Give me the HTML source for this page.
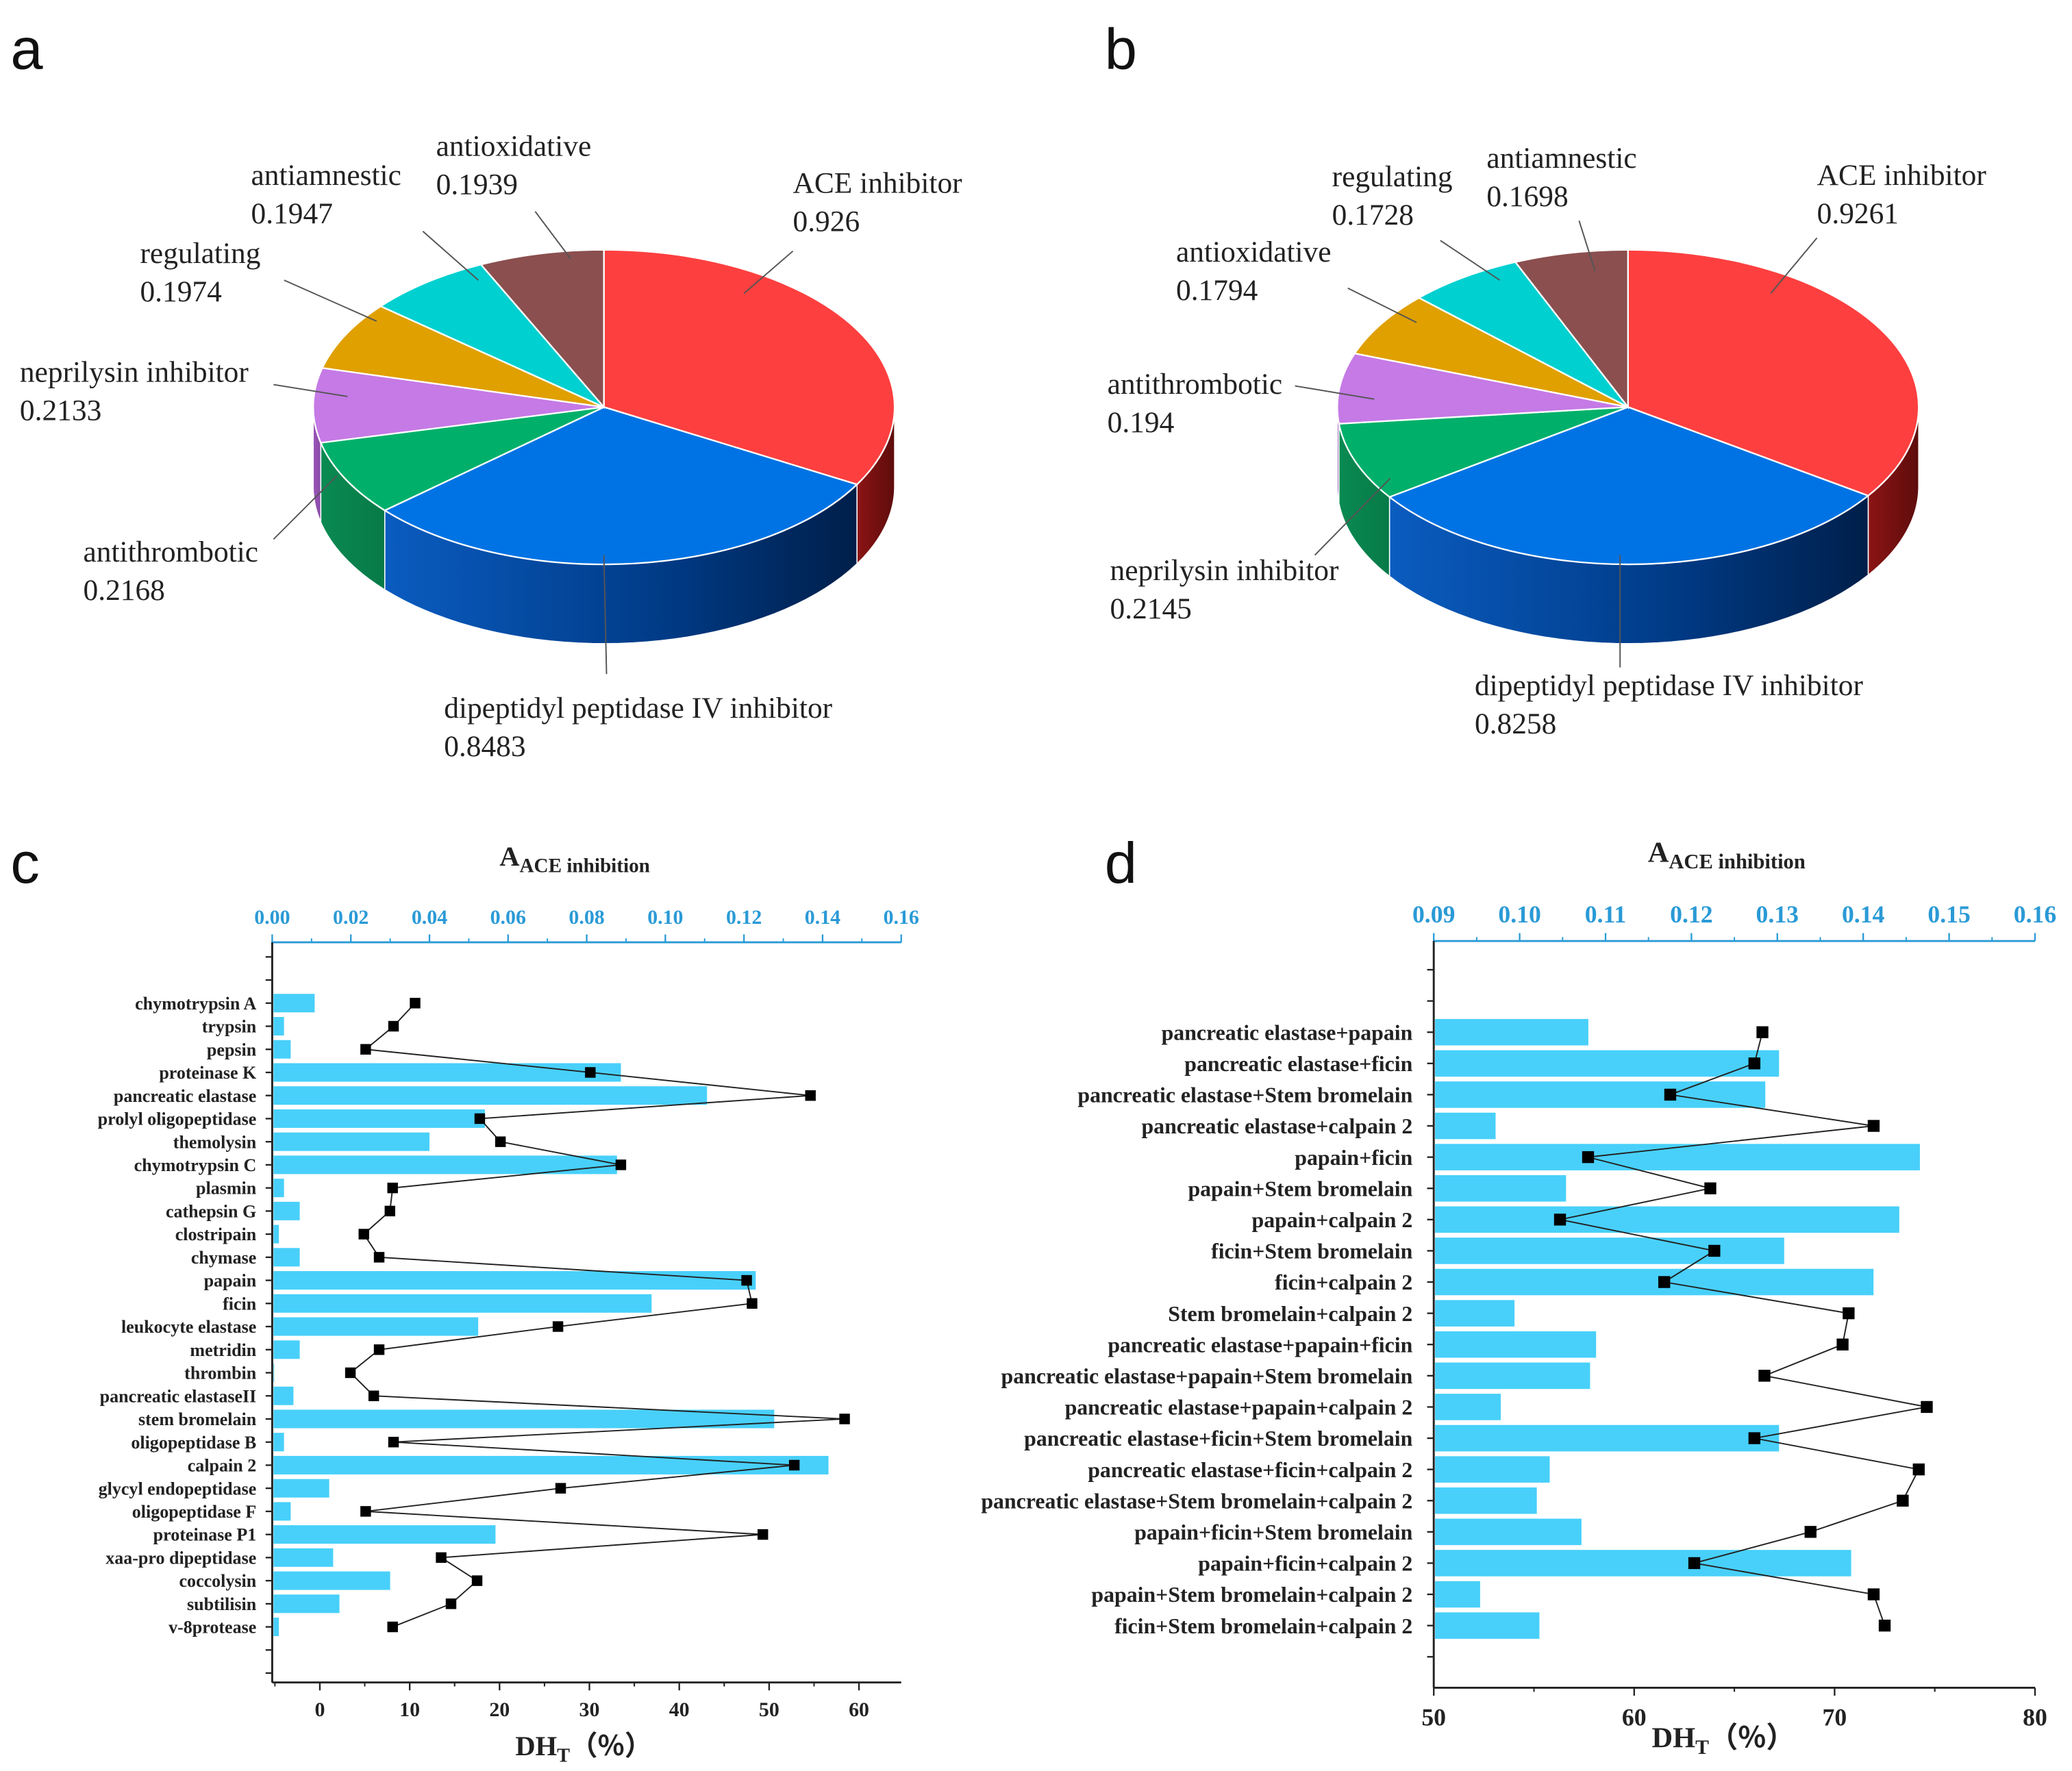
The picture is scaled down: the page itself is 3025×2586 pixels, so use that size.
<!DOCTYPE html>
<html><head><meta charset="utf-8"><style>
html,body{margin:0;padding:0;background:#fff}
svg{display:block}
.lbl{font-family:"Liberation Serif",serif;font-size:22.5px;fill:#222}
.cat{font-family:"Liberation Serif",serif;font-weight:bold;fill:#222}
.tk{font-family:"Liberation Serif",serif;font-weight:bold}
.let{font-family:"Liberation Sans","DejaVu Sans",sans-serif;font-size:44px;fill:#111}
</style></head><body>
<svg id="root" width="3025" height="2586" viewBox="0 0 1568 1340" preserveAspectRatio="none" xmlns="http://www.w3.org/2000/svg">
<defs>
<linearGradient id="gBlue" x1="0" x2="1" y1="0" y2="0"><stop offset="0" stop-color="#0a5cc0"/><stop offset="0.6" stop-color="#003a85"/><stop offset="1" stop-color="#001f4a"/></linearGradient>
<linearGradient id="gRed" x1="0" x2="1"><stop offset="0" stop-color="#8c1414"/><stop offset="1" stop-color="#5e0c0c"/></linearGradient>
<linearGradient id="gGreen" x1="0" x2="1"><stop offset="0" stop-color="#0a8a52"/><stop offset="1" stop-color="#077a48"/></linearGradient>
<linearGradient id="gPurple" x1="0" x2="1"><stop offset="0" stop-color="#9a55b8"/><stop offset="1" stop-color="#8a4aa8"/></linearGradient>
</defs>
<text class="let" x="8" y="52">a</text>
<text class="let" x="836" y="52">b</text>
<text class="let" x="8" y="668">c</text>
<text class="let" x="836" y="668">d</text>
<g id="pieA"></g>
<g id="pieB"></g>
<g id="chartC"></g>
<g id="chartD"></g>
</svg>
<script>
// ---------- Pie data ----------
const pieALabels = ["ACE inhibitor","dipeptidyl peptidase IV inhibitor","antithrombotic","neprilysin inhibitor","regulating","antiamnestic","antioxidative"];
const pieAValues = [0.926,0.8483,0.2168,0.2133,0.1974,0.1947,0.1939];
const pieBLabels = ["ACE inhibitor","dipeptidyl peptidase IV inhibitor","neprilysin inhibitor","antithrombotic","antioxidative","regulating","antiamnestic"];
const pieBValues = [0.9261,0.8258,0.2145,0.194,0.1794,0.1728,0.1698];
// ---------- Chart c data ----------
const cCats = ["chymotrypsin A","trypsin","pepsin","proteinase K","pancreatic elastase","prolyl oligopeptidase","themolysin","chymotrypsin C","plasmin","cathepsin G","clostripain","chymase","papain","ficin","leukocyte elastase","metridin","thrombin","pancreatic elastaseII","stem bromelain","oligopeptidase B","calpain 2","glycyl endopeptidase","oligopeptidase F","proteinase P1","xaa-pro dipeptidase","coccolysin","subtilisin","v-8protease"];
const cAce = [0.0108,0.003,0.0047,0.0887,0.1106,0.0541,0.040,0.0877,0.003,0.007,0.0017,0.007,0.123,0.0965,0.0524,0.007,0.0003,0.0054,0.1277,0.003,0.1415,0.0145,0.0047,0.0568,0.0155,0.030,0.0171,0.0017];
const cDh = [10.6,8.2,5.1,30.1,54.6,17.8,20.1,33.5,8.1,7.8,4.9,6.6,47.5,48.1,26.5,6.6,3.4,6.0,58.4,8.2,52.8,26.8,5.1,49.3,13.5,17.5,14.6,8.1];
const cTopTicks = ["0.00","0.02","0.04","0.06","0.08","0.10","0.12","0.14","0.16"];
const cBotTicks = [0,10,20,30,40,50,60];
// ---------- Chart d data ----------
const dCats = ["pancreatic elastase+papain","pancreatic elastase+ficin","pancreatic elastase+Stem bromelain","pancreatic elastase+calpain 2","papain+ficin","papain+Stem bromelain","papain+calpain 2","ficin+Stem bromelain","ficin+calpain 2","Stem bromelain+calpain 2","pancreatic elastase+papain+ficin","pancreatic elastase+papain+Stem bromelain","pancreatic elastase+papain+calpain 2","pancreatic elastase+ficin+Stem bromelain","pancreatic elastase+ficin+calpain 2","pancreatic elastase+Stem bromelain+calpain 2","papain+ficin+Stem bromelain","papain+ficin+calpain 2","papain+Stem bromelain+calpain 2","ficin+Stem bromelain+calpain 2"];
const dAce = [0.108,0.1302,0.1286,0.0972,0.1466,0.1054,0.1442,0.1308,0.1412,0.0994,0.1089,0.1082,0.0978,0.1302,0.1035,0.102,0.1072,0.1386,0.0954,0.1023];
const dDh = [66.4,66.0,61.8,71.95,57.7,63.8,56.3,64.0,61.5,70.7,70.4,66.5,74.6,66.0,74.2,73.4,68.8,63.0,71.95,72.5];
const dTopTicks = ["0.09","0.10","0.11","0.12","0.13","0.14","0.15","0.16"];
const dBotTicks = [50,60,70,80];

const NS="http://www.w3.org/2000/svg";
function mk(tag,attrs,parent){const e=document.createElementNS(NS,tag);for(const k in attrs)e.setAttribute(k,attrs[k]);if(parent)parent.appendChild(e);return e;}

function drawPie(g, labels, values, colors, sideFills, cx, cy, rx, ry, depth, labelPos, prefix){
  const total=values.reduce((a,b)=>a+b,0);
  let a=-Math.PI/2;
  const slices=[];
  values.forEach((v,i)=>{const s=a;const e=a+v/total*2*Math.PI;slices.push([s,e]);a=e;});
  const P=(t,dy)=>[cx+rx*Math.cos(t),cy+ry*Math.sin(t)+(dy||0)];
  slices.forEach((sl,i)=>{
    for(const off of [0,2*Math.PI,-2*Math.PI]){
      const s=Math.max(sl[0]+off,0), e=Math.min(sl[1]+off,Math.PI);
      if(e>s){
        let pts=[];
        const n=40;
        for(let k=0;k<=n;k++){pts.push(P(s+(e-s)*k/n));}
        for(let k=n;k>=0;k--){pts.push(P(s+(e-s)*k/n,depth));}
        const side=mk('polygon',{points:pts.map(p=>p.join(',')).join(' '),fill:sideFills[i],stroke:'#fff','stroke-width':0.8},g);
        
        
      }
    }
  });
  slices.forEach((sl,i)=>{
    const p1=P(sl[0]),p2=P(sl[1]);
    const large=(sl[1]-sl[0])>Math.PI?1:0;
    const path=mk('path',{d:`M${cx},${cy} L${p1[0]},${p1[1]} A${rx},${ry} 0 ${large} 1 ${p2[0]},${p2[1]} Z`,fill:colors[i],stroke:'#fff','stroke-width':1.2},g);
    
    
  });
  labels.forEach((lab,i)=>{
    const lp=labelPos[i];
    const ln=mk('line',{x1:lp[2],y1:lp[3],x2:lp[4],y2:lp[5],stroke:'#555','stroke-width':1},g);
    
    
    const t1=mk('text',{x:lp[0],y:lp[1],class:'lbl'},g);t1.textContent=lab;
    
    
    const t2=mk('text',{x:lp[0],y:lp[1]+29,class:'lbl'},g);t2.textContent=String(values[i]);
    
    
  });
}
const topCols=["#fd3f3f","#0073e4","#00b06a","#c57ae6","#e0a000","#00d0d0","#8b4f4f"];
const sideA=["url(#gRed)","url(#gBlue)","url(#gGreen)","url(#gPurple)","#b08000","#00a0a0","#6a3a3a"];
drawPie(document.getElementById('pieA'),pieALabels,pieAValues,topCols,sideA,457,308,220,119,60,
 [[600,146,600,190,563,222],[336,543,459,510,457,420],[63,425,207,408,255,360],[15,289,207,291,263,300],[106,199,215,212,285,243],[190,140,320,175,362,212],[330,118,405,160,432,196]],'pie-a');
drawPie(document.getElementById('pieB'),pieBLabels,pieBValues,topCols,sideA,1232,308,220,119,60,
 [[1375,140,1375,180,1340,222],[1116,526,1226,505,1226,420],[840,439,995,420,1052,362],[838,298,980,292,1040,302],[890,198,1020,218,1072,244],[1008,141,1090,182,1135,212],[1125,127,1195,167,1207,205]],'pie-b');

function drawCombo(g,o){
  const blue='#2a9ad6';
  const xTop=v=>o.L+(v-o.tMin)/(o.tMax-o.tMin)*(o.R-o.L);
  const xBot=v=>o.L+(v-o.bMin)/(o.bMax-o.bMin)*(o.R-o.L);
  const yRow=i=>o.y0+i*o.dy;
  let e=mk('line',{x1:o.L,y1:o.T,x2:o.R,y2:o.T,stroke:blue,'stroke-width':1.5},g);
  
  e=mk('line',{x1:o.L,y1:o.B,x2:o.R,y2:o.B,stroke:'#222','stroke-width':1.5},g);
  
  e=mk('line',{x1:o.L,y1:o.T,x2:o.L,y2:o.B,stroke:'#222','stroke-width':1.5},g);
  
  for(let k=-o.extraTop;k<o.cats.length+o.extraBot;k++){
    const y=yRow(k); if(y<o.T+3||y>o.B-3)continue;
    mk('line',{x1:o.L-5,y1:y,x2:o.L,y2:y,stroke:'#222','stroke-width':1.2},g);
  }
  o.topTicks.forEach((t,i)=>{
    const v=parseFloat(t),x=xTop(v);
    mk('line',{x1:x,y1:o.T,x2:x,y2:o.T-6,stroke:blue,'stroke-width':1.2},g);
    if(i<o.topTicks.length-1){const xm=xTop(v+(parseFloat(o.topTicks[1])-parseFloat(o.topTicks[0]))/2);mk('line',{x1:xm,y1:o.T,x2:xm,y2:o.T-3,stroke:blue,'stroke-width':1},g);}
    const tx=mk('text',{x:x,y:o.T-14,'text-anchor':'middle',class:'tk',fill:blue,'font-size':o.tkSize},g);tx.textContent=t;
    
  });
  o.botTicks.forEach((v,i)=>{
    const x=xBot(v);
    mk('line',{x1:x,y1:o.B,x2:x,y2:o.B+6,stroke:'#222','stroke-width':1.2},g);
    const step=o.botTicks[1]-o.botTicks[0];
    [v-step/2,v+step/2].forEach(m=>{const xm=xBot(m);if(xm>o.L+1&&xm<o.R-1)mk('line',{x1:xm,y1:o.B,x2:xm,y2:o.B+3,stroke:'#222','stroke-width':1},g);});
    const tx=mk('text',{x:x,y:o.B+o.tkSize+10,'text-anchor':'middle',class:'tk',fill:'#222','font-size':o.tkSize},g);tx.textContent=String(v);
    
  });
  o.cats.forEach((c,i)=>{
    const y=yRow(i);
    const b=mk('rect',{x:o.L+1,y:y-o.bh/2,width:Math.max(0.5,xTop(o.ace[i])-o.L-1),height:o.bh,fill:'#48d0fa'},g);
    
    
    const t=mk('text',{x:o.L-o.catGap,y:y+o.catSize*0.35,'text-anchor':'end',class:'cat','font-size':o.catSize},g);t.textContent=c;
    
  });
  const pts=o.dh.map((v,i)=>xBot(v)+','+yRow(i)).join(' ');
  const pl=mk('polyline',{points:pts,fill:'none',stroke:'#222','stroke-width':1},g);
  
  o.dh.forEach((v,i)=>{
    const m=mk('rect',{x:xBot(v)-o.ms/2,y:yRow(i)-o.ms/2,width:o.ms,height:o.ms,fill:'#000'},g);
    
  });
  const tt=mk('text',{x:o.titleX,y:o.titleY,class:'tk','font-size':o.titleSize,fill:'#222'},g);
  tt.innerHTML='A<tspan font-size="'+(o.titleSize*0.72)+'" dy="5">ACE inhibition</tspan>';
  
  const bt=mk('text',{x:o.xtX,y:o.xtY,class:'tk','font-size':o.titleSize,fill:'#222'},g);
  bt.innerHTML='DH<tspan font-size="'+(o.titleSize*0.7)+'" dy="5">T</tspan><tspan dy="-5" font-family="Noto Sans CJK SC, sans-serif">（%）</tspan>';
  
}
drawCombo(document.getElementById('chartC'),{L:206,R:682,T:713,B:1273,tMin:0,tMax:0.16,bMin:-5.3,bMax:64.7,
  y0:759,dy:17.48,bh:14,cats:cCats,ace:cAce,dh:cDh,topTicks:cTopTicks,botTicks:cBotTicks,extraTop:3,extraBot:3,
  tkSize:15.5,catSize:13.5,catGap:12,ms:8,titleX:378,titleY:655,titleSize:21,xtX:390,xtY:1328});
drawCombo(document.getElementById('chartD'),{L:1085,R:1540,T:712,B:1277,tMin:0.09,tMax:0.16,bMin:50,bMax:80,
  y0:781,dy:23.63,bh:20,cats:dCats,ace:dAce,dh:dDh,topTicks:dTopTicks,botTicks:dBotTicks,extraTop:3,extraBot:2,
  tkSize:18.5,catSize:16.5,catGap:16,ms:9,titleX:1247,titleY:652,titleSize:22,xtX:1250,xtY:1322});
</script>
</body></html>
